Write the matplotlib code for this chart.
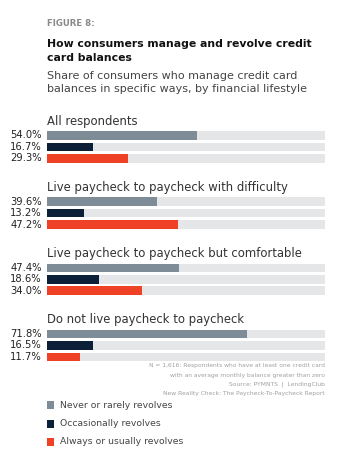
import matplotlib.pyplot as plt
from matplotlib.patches import Rectangle

plt.rcParams['font.family'] = ['DejaVu Sans']

groups = ['All respondents',
          'Live paycheck to paycheck with difficulty',
          'Live paycheck to paycheck but comfortable',
          'Do not live paycheck to paycheck']
series = ['Never or rarely revolves', 'Occasionally revolves', 'Always or usually revolves']
never = [54.0, 39.6, 47.4, 71.8]
occasionally = [16.7, 13.2, 18.6, 16.5]
always = [29.3, 47.2, 34.0, 11.7]

colors = ['#7d8c97', '#0b2038', '#ee4126']
track = '#e5e6e8'

W, H = 342, 462
fig = plt.figure(figsize=(W / 100, H / 100), dpi=100)
fig.patch.set_facecolor('white')

# bar axes: x in percent, y in pixel rows of the figure
ax = fig.add_axes([47 / W, 0, 278 / W, 1])
ax.set_xlim(0, 100)
ax.set_ylim(H, 0)
ax.axis('off')

first_row = 135.5
row_step = 11.4
group_step = 66.2
bar_h = 8.5

values = [never, occasionally, always]
for g, name in enumerate(groups):
    base = first_row + g * group_step
    ax.text(0, base - 11, name, fontsize=8.4, color='#333333', va='baseline', ha='left')
    for i, vals in enumerate(values):
        y = base + i * row_step
        ax.barh(y, 100, height=bar_h, color=track, linewidth=0)
        ax.barh(y, vals[g], height=bar_h, color=colors[i], linewidth=0)
        ax.text(-1.8, y, '%.1f%%' % vals[g], fontsize=7.2, color='#222222',
                ha='right', va='center')

# titles
fig.text(47 / W, 1 - 23 / H, 'FIGURE 8:', fontsize=6.2, fontweight='bold', color='#8a8a8a', va='center')
fig.text(47 / W, 1 - 51 / H, 'How consumers manage and revolve credit\ncard balances',
         fontsize=7.8, fontweight='bold', color='#111111', va='center', linespacing=1.55)
fig.text(47 / W, 1 - 82.5 / H, 'Share of consumers who manage credit card\nbalances in specific ways, by financial lifestyle',
         fontsize=8.05, color='#444444', va='center', linespacing=1.45)

# footnote
notes = ['N = 1,616: Respondents who have at least one credit card',
         'with an average monthly balance greater than zero',
         'Source: PYMNTS  |  LendingClub',
         'New Reality Check: The Paycheck-To-Paycheck Report']
for k, line in enumerate(notes):
    fig.text(325 / W, 1 - (366 + 9 * k) / H, line, fontsize=4.3, color='#a0a0a0', ha='right', va='center')

# legend
for k, name in enumerate(series):
    yc = 405 + 18.5 * k
    fig.patches.append(Rectangle((46.7 / W, 1 - (yc + 4) / H), 7.5 / W, 8 / H,
                                 transform=fig.transFigure, color=colors[k], linewidth=0))
    fig.text(60 / W, 1 - yc / H, name, fontsize=6.7, color='#444444', va='center')

fig.savefig('out.png', dpi=100, facecolor='white')
